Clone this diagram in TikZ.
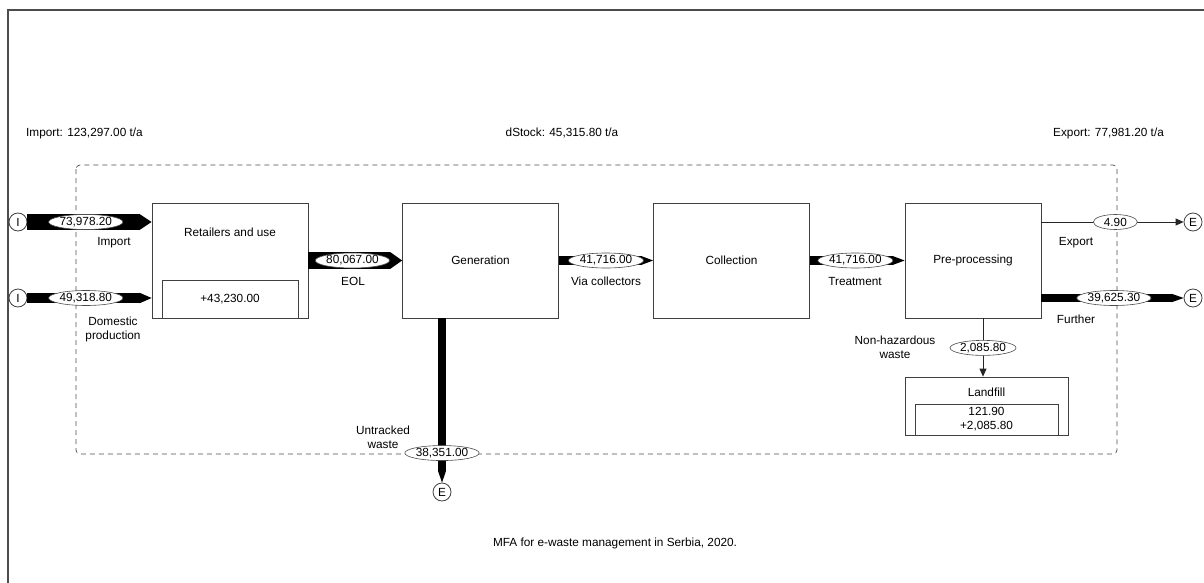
\documentclass[tikz,border=0pt]{standalone}
\usepackage{fontspec}
\setmainfont{Liberation Sans}
\usepackage{tikz}
\usetikzlibrary{shapes.geometric}
\usetikzlibrary{arrows.meta}

\begin{document}
\begin{tikzpicture}[x=1pt,y=-1pt,
        font=\fontsize{11.8}{14}\selectfont,
        every node/.style={inner sep=0pt},
        proc/.style={draw=black!75, line width=0.8pt, fill=white, minimum width=#1, minimum height=115pt},
        stockbox/.style={draw=black!75, line width=0.8pt, align=center},
        val/.style={ellipse, draw=black!70, line width=0.6pt, fill=white, text=black, minimum width=72pt, minimum height=15pt},
        term/.style={circle, draw=black!75, line width=0.8pt, fill=white, minimum size=18pt},
        flow/.style={draw=black, line width=#1, -{Triangle[length=12pt, width=#1, line width=0pt]}},
        thinflow/.style={draw=black!85, line width=0.8pt, -{Triangle[length=8pt, width=7pt]}}]
        \useasboundingbox (0,0) rectangle (1204,583);
        \draw[black!70, line width=1.3pt] (8,583) -- (8,10) -- (1204,10);
        \draw[black!70, line width=0.7pt, dash pattern=on 5pt off 4pt, rounded corners=4pt] (76,165) rectangle (1117,454);

        % top line
        \node[anchor=west] (hImp) at (26,133) {Import: 123,297.00 t/a};
        \node[] (hStock) at (562,133) {dStock: 45,315.80 t/a};
        \node[anchor=west] (hExp) at (1053,133) {Export: 77,981.20 t/a};

        % processes
        \node[proc=156pt] (ret) at (230,260.5) {};
        \node[] (retT) at (230,232) {Retailers and use};
        \node[stockbox, minimum width=136pt, minimum height=38pt] (retS) at (230,299) {+43,230.00};
        \node[proc=156pt] (gen) at (480.5,260.5) {Generation};
        \node[proc=156pt] (col) at (731.5,260.5) {Collection};
        \node[proc=136pt] (pre) at (973,260.5) {Pre-processing};
        \node[proc=163pt, minimum height=58pt] (lf) at (986.5,406) {};
        \node[] (lfT) at (986.5,392) {Landfill};
        \node[stockbox, minimum width=143pt, minimum height=31pt] (lfS) at (986.5,419.5) {121.90\\+2,085.80};

        % import and export
        \node[term] (iA) at (18,222) {I};
        \node[term] (iB) at (18,298) {I};
        \node[term] (eA) at (1193,222) {E};
        \node[term] (eB) at (1193,298) {E};
        \node[term] (eC) at (442,492) {E};
        \coordinate (nh) at (983,318);

        % flows
        \draw[flow=16pt] (iA) -- node[val, pos=0.47] {73,978.20} (ret.west |- iA);
        \draw[flow=10.5pt] (iB) -- node[val, pos=0.47] {49,318.80} (ret.west |- iB);
        \draw[flow=17pt] (ret.east) -- node[val, pos=0.47] {80,067.00} (gen.west);
        \draw[flow=9pt] (gen.east) -- node[val, minimum width=75pt, pos=0.5] {41,716.00} (col.west);
        \draw[flow=9pt] (col.east) -- node[val, minimum width=75pt, pos=0.48] {41,716.00} (pre.west);
        \draw[thinflow] (pre.east |- eA) -- node[val, minimum width=44pt, pos=0.52] {4.90} (eA);
        \draw[flow=8.5pt] (pre.east |- eB) -- node[val, pos=0.51] {39,625.30} (eB);
        \draw[flow=8.2pt] (gen.south -| eC) -- node[val, minimum width=73pt, pos=0.82] {38,351.00} (eC);
        \draw[thinflow] (nh) -- node[val, minimum width=66pt, pos=0.51] {2,085.80} (nh |- lf.north);

        % flow names
        \node[] (lImp) at (114,243) {Import};
        \node[align=center] (lDom) at (113,329) {Domestic\\production};
        \node[] (lEol) at (353,281) {EOL};
        \node[] (lVia) at (606,281) {Via collectors};
        \node[] (lTre) at (855,281) {Treatment};
        \node[] (lExp) at (1076,243) {Export};
        \node[] (lFur) at (1076,319) {Further};
        \node[align=center] (lNh) at (895,347) {Non-hazardous\\waste};
        \node[align=center] (lUnt) at (383,437) {Untracked\\waste};

        \node[] (cap) at (615,543) {MFA for e-waste management in Serbia, 2020.};
    \end{tikzpicture}
\end{document}
